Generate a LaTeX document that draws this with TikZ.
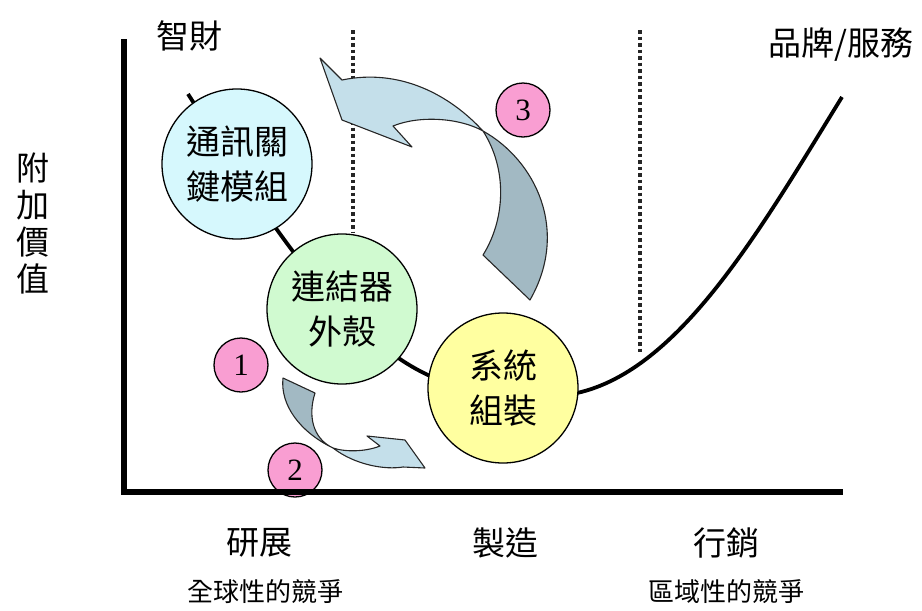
\documentclass[tikz,border=0pt]{standalone}
\usepackage{fontspec}
\newfontfamily\cjk{Noto Sans CJK TC}
\setmainfont{Liberation Serif}
\definecolor{cyanfill}{RGB}{214,248,253}
\definecolor{greenfill}{RGB}{208,250,208}
\definecolor{yellowfill}{RGB}{255,255,160}
\definecolor{pinkfill}{RGB}{249,158,210}
\definecolor{arrowlight}{RGB}{196,223,234}
\definecolor{arrowdark}{RGB}{162,185,195}
\tikzset{
  bigcirc/.style={circle, draw=black, line width=1.3pt, minimum size=150pt, inner sep=0pt,
    align=center, font=\cjk\fontsize{34}{45}\selectfont},
  numcirc/.style={circle, draw=black, line width=1.3pt, fill=pinkfill, minimum size=54pt,
    inner sep=0pt, font=\fontsize{31}{31}\selectfont},
  lbl/.style={font=\cjk\fontsize{33}{40}\selectfont, inner sep=0pt},
  smalllbl/.style={font=\cjk\fontsize{26}{30}\selectfont, inner sep=0pt},
  axisline/.style={line width=5.5pt, line cap=rect},
  guide/.style={line width=3.2pt, dash pattern=on 3.5pt off 3pt, black!85},
  smile/.style={line width=3.8pt},
  ribbon/.style={draw=black!85, line width=1.1pt, line join=round}
}
\begin{document}
\begin{tikzpicture}[x=1pt,y=-1pt]
\useasboundingbox (0,0) rectangle (922,611);
% guide lines
\coordinate (g1t) at (353,30); \coordinate (g1b) at (353,232);
\coordinate (g2t) at (640,30); \coordinate (g2b) at (640,352);
\draw[guide] (g1t) -- (g1b);
\draw[guide] (g2t) -- (g2b);
% smile curve
\coordinate (s0) at (188,94);
\coordinate (s1) at (430,376);
\coordinate (s2) at (577,393);
\coordinate (s3) at (842,97);
\draw[smile] (s0) .. controls (250,190) and (330,330) .. (s1)
  .. controls (500,408) and (517,406) .. (s2)
  .. controls (680,370) and (760,230) .. (s3);
% big circles
\node[bigcirc, fill=cyanfill] (c1) at (237,164) {通訊關\\鍵模組};
\node[bigcirc, fill=greenfill] (c2) at (342,309) {連結器\\外殼};
\node[bigcirc, fill=yellowfill] (c3) at (503,388) {系統\\組裝};
% arrow 3 (big)
\filldraw[ribbon, fill=arrowlight] (483,131) .. controls (450,95) and (400,68) .. (342,80)
  -- (320,58) -- (342,120) -- (412,147) -- (393,126)
  .. controls (420,115) and (460,118) .. (483,131) -- cycle;
\filldraw[ribbon, fill=arrowdark] (483,131) .. controls (535,160) and (570,230) .. (530,300)
  -- (483,255) .. controls (505,220) and (508,170) .. (483,131) -- cycle;
% arrow 1 (small)
\filldraw[ribbon, fill=arrowlight] (333,448) .. controls (355,465) and (385,470) .. (403,467)
  -- (425,468) -- (405,440) -- (367,436) -- (380,446)
  .. controls (365,452) and (345,452) .. (333,448) -- cycle;
\filldraw[ribbon, fill=arrowdark] (283,378) -- (315,393)
  .. controls (308,415) and (312,438) .. (333,448)
  .. controls (300,432) and (280,405) .. (283,378) -- cycle;
% number circles
\node[numcirc] (n1) at (241,365) {1};
\node[numcirc] (n2) at (295,470) {2};
\node[numcirc] (n3) at (523,110) {3};
% axes
\coordinate (o) at (124,492);
\coordinate (ytop) at (124,42);
\coordinate (xend) at (840,492);
\draw[axisline] (ytop) -- (o) -- (xend);
% labels
\node[lbl] (ip) at (189,36) {智財};
\node[lbl] (brand) at (841,45) {品牌/服務};
\node[lbl, align=center, font=\cjk\fontsize{33}{37}\selectfont] (va) at (33,223) {附\\加\\價\\值};
\node[lbl] (rd) at (259,543) {研展};
\node[lbl] (mf) at (505,543) {製造};
\node[lbl] (mk) at (726,543) {行銷};
\node[smalllbl] (glob) at (265,592) {全球性的競爭};
\node[smalllbl] (reg) at (726,592) {區域性的競爭};
\end{tikzpicture}
\end{document}
